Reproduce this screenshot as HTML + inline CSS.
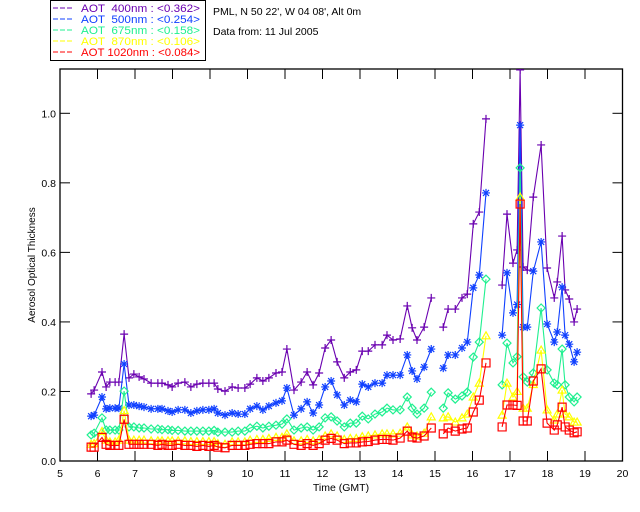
<!DOCTYPE html>
<html><head><meta charset="utf-8"><style>
body{margin:0;background:#fff;}
svg{display:block;font-family:"Liberation Sans",sans-serif;}
</style></head><body>
<svg id="chart" width="640" height="512" viewBox="0 0 640 512" xmlns="http://www.w3.org/2000/svg">
<rect x="0" y="0" width="640" height="512" fill="#fff"/>
<g id="legend">
<rect x="50.5" y="0.5" width="155" height="60" fill="none" stroke="#000"/>
</g>
<text x="213" y="15" font-size="10.5">PML, N 50 22', W 04 08', Alt 0m</text>
<text x="213" y="35" font-size="10.5">Data from: 11 Jul 2005</text>
<text transform="translate(35,265) rotate(-90)" text-anchor="middle" font-size="10">Aerosol Optical Thickness</text>
<text x="341" y="491" text-anchor="middle" font-size="10.5">Time (GMT)</text>
<g id="axes"></g>
<g id="plot"></g>
</svg>
<script>
const times=[5.83,5.91,6.12,6.23,6.33,6.47,6.57,6.71,6.84,6.97,7.11,7.24,7.43,7.61,7.72,7.88,7.99,8.15,8.33,8.49,8.65,8.81,8.97,9.11,
9.21,9.40,9.59,9.75,9.93,10.07,10.25,10.41,10.57,10.76,10.92,11.05,11.24,11.43,11.59,11.75,11.91,12.07,12.23,
12.39,12.58,12.74,12.90,13.06,13.22,13.40,13.59,13.72,13.88,14.07,14.26,14.39,14.52,14.71,14.90,null,
15.22,15.35,15.54,15.72,15.86,16.02,16.18,16.36,null,
16.79,16.92,17.08,17.19,17.27,17.35,17.46,17.62,17.83,17.99,18.18,18.26,18.39,18.47,18.58,18.71,18.79];
const aot400=[.193,.204,.256,.213,.227,.227,.227,.365,.239,.250,.242,.236,.224,.224,.224,.219,.213,.224,.227,.213,.221,.224,.224,.224,
.207,.201,.213,.210,.210,.221,.239,.230,.239,.253,.256,.322,.204,.227,.256,.219,.253,.325,.348,
.285,.239,.256,.262,.316,.316,.334,.334,.362,.348,.351,.446,.383,.348,.385,.469,null,
.385,.437,.437,.469,.480,.682,.716,.984,null,
.506,.710,.569,.607,1.125,.558,.549,.759,.909,.555,.469,.515,.647,.492,.466,.400,.437];
const aot500=[.129,.132,.184,.150,.152,.152,.152,.279,.161,.161,.158,.155,.150,.150,.150,.144,.141,.147,.147,.138,.144,.147,.147,.150,
.138,.132,.138,.135,.135,.150,.158,.147,.158,.167,.173,.210,.132,.150,.170,.138,.161,.213,.230,
.190,.161,.175,.170,.221,.213,.224,.224,.247,.247,.247,.305,.259,.236,.270,.322,null,
.267,.305,.305,.325,.342,.498,.535,.771,null,
.362,.541,.426,.45,.966,.385,.385,.546,.630,.394,.342,.371,.500,.362,.336,.285,.313];
const aot675=[.075,.080,.124,.089,.089,.089,.089,.201,.098,.098,.095,.095,.092,.092,.090,.090,.088,.088,.086,.086,.086,.086,.086,.088,
.083,.083,.083,.086,.086,.095,.100,.095,.100,.103,.106,.121,.089,.095,.098,.089,.098,.124,.127,
.115,.098,.109,.109,.129,.121,.135,.141,.152,.147,.147,.184,.152,.135,.152,.198,null,
.152,.196,.178,.187,.198,.299,.342,.523,null,
.219,.339,.282,.30,.843,.242,.227,.253,.440,.262,.224,.219,.322,.219,.184,.170,.184];
const aot870=[.048,.050,.085,.060,.055,.055,.060,.145,.060,.060,.060,.060,.058,.058,.058,.058,.058,.058,.058,.056,.056,.056,.056,.056,
.050,.048,.055,.055,.055,.060,.062,.062,.065,.068,.068,.078,.058,.058,.062,.058,.062,.072,.078,
.072,.062,.065,.065,.070,.072,.075,.078,.078,.078,.080,.098,.075,.072,.080,.127,null,
.124,.127,.112,.124,.135,.184,.224,.360,null,
.132,.224,.184,.20,.759,.152,.152,.22,.319,.147,.118,.135,.204,.135,.127,.112,.112];
const aot1020=[.040,.040,.068,.048,.045,.045,.045,.120,.048,.048,.048,.048,.048,.045,.048,.045,.045,.048,.045,.045,.042,.045,.042,.045,
.040,.038,.045,.045,.045,.048,.050,.050,.050,.055,.055,.060,.048,.045,.050,.045,.050,.060,.065,
.060,.050,.052,.052,.055,.056,.060,.062,.062,.060,.066,.086,.069,.066,.072,.095,null,
.078,.095,.086,.092,.095,.141,.175,.282,null,
.098,.161,.161,.16,.739,.115,.115,.230,.265,.109,.089,.104,.155,.098,.089,.081,.084];
const xTicks=[5,6,7,8,9,10,11,12,13,14,15,16,17,18,19,20];
const yTicks=[0.0,0.2,0.4,0.6,0.8,1.0];
const seriesNames=["AOT  400nm : <0.362>","AOT  500nm : <0.254>","AOT  675nm : <0.158>","AOT  870nm : <0.106>","AOT 1020nm : <0.084>"];

const L=60,R=622.5,T=69,B=461;
const sx=t=>L+(t-5)/15*(R-L);
const sy=v=>B-v*347.7;
const NS="http://www.w3.org/2000/svg";
function mk(tag,attrs,parent){const e=document.createElementNS(NS,tag);for(const k in attrs)e.setAttribute(k,attrs[k]);parent.appendChild(e);return e;}
const axes=document.getElementById('axes'),plot=document.getElementById('plot'),legend=document.getElementById('legend');
const frame=mk('rect',{x:L,y:T,width:R-L,height:B-T,fill:'none',stroke:'#000','stroke-width':1.3},axes);


xTicks.forEach(t=>{
  const x=sx(t);
  const a=mk('line',{x1:x,y1:B,x2:x,y2:B-10,stroke:'#000'},axes);
  
  
  const b=mk('line',{x1:x,y1:T,x2:x,y2:T+10,stroke:'#000'},axes);
  
  
  const l=mk('text',{x:x,y:B+16,'text-anchor':'middle','font-size':10.5},axes);
  l.textContent=t;
  
  
});
yTicks.forEach(v=>{
  const y=sy(v);
  const a=mk('line',{x1:L,y1:y,x2:L+10,y2:y,stroke:'#000'},axes);
  
  
  const b=mk('line',{x1:R,y1:y,x2:R-10,y2:y,stroke:'#000'},axes);
  
  
  const l=mk('text',{x:L-4,y:y+4,'text-anchor':'end','font-size':10.5},axes);
  l.textContent=v.toFixed(1);
  
  
});
const defs=mk('clipPath',{id:'clip'},axes);
mk('rect',{x:L,y:T,width:R-L,height:B-T},defs);
const colors=['#6a00b0','#1040ff','#20f090','#ffff00','#ff0000'];
const markers=['plus','star','diamond','triangle','square'];
const data=[aot400,aot500,aot675,aot870,aot1020];
function marker(type,x,y,c,g){
  const s=4;let d;
  if(type==='plus')d=`M${x-s} ${y}H${x+s}M${x} ${y-s}V${y+s}`;
  else if(type==='star')d=`M${x-s} ${y}H${x+s}M${x} ${y-s}V${y+s}M${x-3} ${y-3}L${x+3} ${y+3}M${x-3} ${y+3}L${x+3} ${y-3}`;
  else if(type==='diamond')d=`M${x} ${y-s}L${x+s} ${y}L${x} ${y+s}L${x-s} ${y}Z`;
  else if(type==='triangle')d=`M${x} ${y-s}L${x+s} ${y+3}L${x-s} ${y+3}Z`;
  else d=`M${x-s} ${y-s}H${x+s}V${y+s}H${x-s}Z`;
  const p=mk('path',{d:d,fill:'none',stroke:c,'stroke-width':1.2},g);
  
  
}
data.forEach((vals,si)=>{
  const g=mk('g',{'clip-path':'url(#clip)'},plot);
  
  
  let d='',pen=false;
  times.forEach((t,i)=>{
    const v=vals[i];
    if(t===null||v===null){pen=false;return;}
    d+=(pen?'L':'M')+sx(t).toFixed(1)+' '+sy(v).toFixed(1);pen=true;
  });
  const path=mk('path',{d:d,fill:'none',stroke:colors[si],'stroke-width':1.1},g);
  
  
  times.forEach((t,i)=>{const v=vals[i];if(t===null||v===null)return;marker(markers[si],sx(t),sy(v),colors[si],g);});
  const ly=12+si*11;
  const ll=mk('line',{x1:53,y1:ly-4,x2:74,y2:ly-4,stroke:colors[si],'stroke-dasharray':'5 2'},legend);
  
  
  const lt=mk('text',{x:81,y:ly,'font-size':11,fill:colors[si],textLength:119,lengthAdjust:'spacingAndGlyphs'},legend);
  lt.setAttribute('style','white-space:pre');
  lt.textContent=seriesNames[si];
  
  
});
</script>
</body></html>
